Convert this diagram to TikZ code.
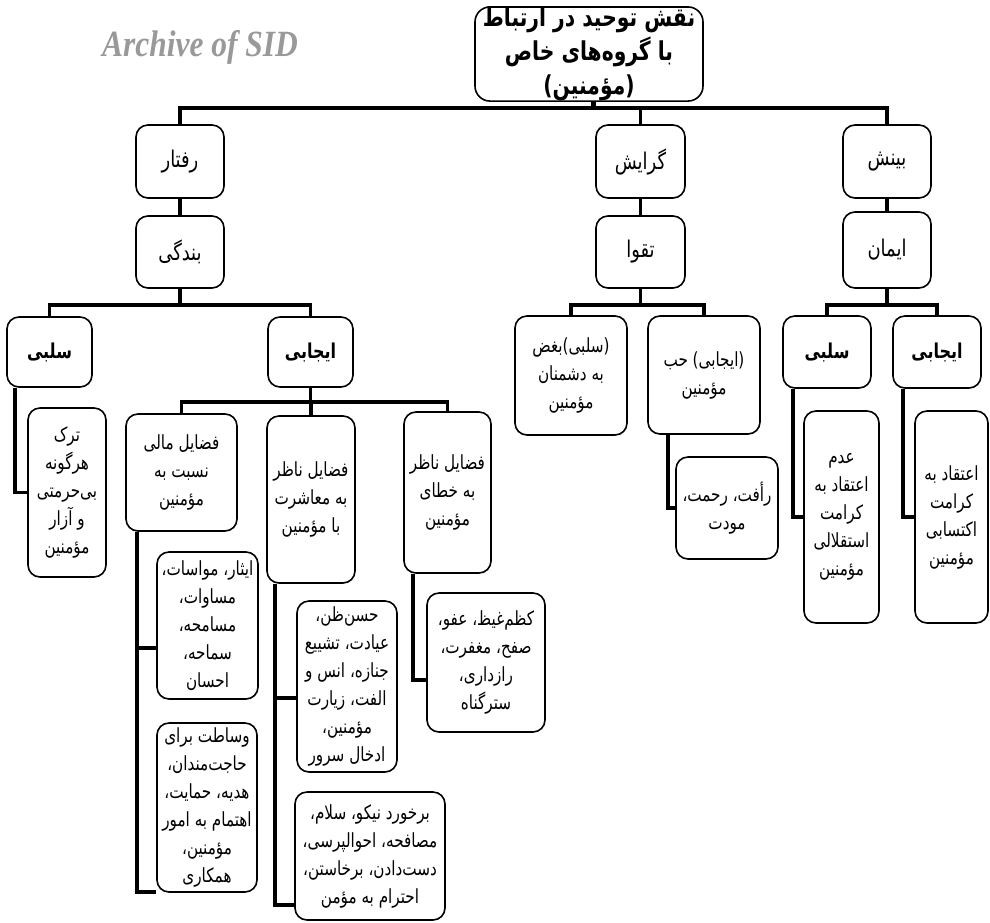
\documentclass[tikz,border=0pt]{standalone}
\usepackage{fontspec}
\usepackage{tikz}
\usetikzlibrary{backgrounds}
\TeXXeTstate=1
\newfontfamily\arabicfont[Script=Arabic, FakeStretch=0.78]{DejaVu Sans}
\newfontfamily\sidfont{Liberation Serif}
\newcommand{\fatxt}[1]{\beginR #1\endR}

\begin{document}
\begin{tikzpicture}[x=1pt,y=-1pt,
    box/.style={draw, fill=white, rounded corners=12pt, line width=1.6pt, align=center, inner sep=0pt,
        font=\arabicfont\fontsize{19.5}{28}\selectfont},
    headbox/.style={box, font=\arabicfont\fontsize{23}{26}\selectfont},
    signbox/.style={box, font=\arabicfont\bfseries\fontsize{20.5}{26}\selectfont},
    titlebox/.style={box, rounded corners=15pt, font=\arabicfont\bfseries\fontsize{26}{34}\selectfont},
    conn/.style={line width=3.3pt},
    ]
    \useasboundingbox (0,0) rectangle (990,922);

    % watermark
    \node[text=black!40, font=\sidfont\bfseries\itshape\fontsize{37}{40}\selectfont, xscale=0.85] (sid) at (200,47) {Archive of SID};

    % title and first levels
    \node[titlebox, minimum width=228pt, minimum height=94pt] (top) at (589,54)
        {\fatxt{نقش توحید در ارتباط}\\\fatxt{با  گروه‌های خاص}\\\fatxt{(مؤمنین)}};
    \node[headbox, minimum width=88pt, minimum height=73pt] (rft) at (180,161.5) {\fatxt{رفتار}};
    \node[headbox, minimum width=89pt, minimum height=73pt] (grs) at (640.5,161.5) {\fatxt{گرایش}};
    \node[headbox, minimum width=88pt, minimum height=73pt] (bns) at (887,161.5) {\fatxt{بینش}};
    \node[headbox, minimum width=88pt, minimum height=72pt] (bnd) at (180,252) {\fatxt{بندگی}};
    \node[headbox, minimum width=89pt, minimum height=72pt] (tqw) at (640.5,252) {\fatxt{تقوا}};
    \node[headbox, minimum width=88pt, minimum height=76pt] (imn) at (887,250) {\fatxt{ایمان}};

    % third level
    \node[signbox, minimum width=85pt, minimum height=70pt] (slbL) at (49.5,352) {\fatxt{سلبی}};
    \node[signbox, minimum width=85pt, minimum height=70pt] (ijbL) at (310.5,352) {\fatxt{ایجابی}};
    \node[box, minimum width=112pt, minimum height=119pt] (bghz) at (571,375.5)
        {\fatxt{(سلبی)بغض}\\\fatxt{به دشمنان}\\\fatxt{مؤمنین}};
    \node[box, minimum width=112pt, minimum height=118pt] (hob) at (704,375)
        {\fatxt{(ایجابی) حب}\\\fatxt{مؤمنین}};
    \node[signbox, minimum width=88pt, minimum height=72pt] (slbR) at (827,352) {\fatxt{سلبی}};
    \node[signbox, minimum width=88pt, minimum height=72pt] (ijbR) at (937,352) {\fatxt{ایجابی}};

    % fourth level
    \node[box, minimum width=78pt, minimum height=169pt] (trk) at (67,492.5)
        {\fatxt{ترک}\\\fatxt{هرگونه}\\\fatxt{بی‌حرمتی}\\\fatxt{و آزار}\\\fatxt{مؤمنین}};
    \node[box, minimum width=111pt, minimum height=117pt] (mali) at (181.5,472.5)
        {\fatxt{فضایل  مالی}\\\fatxt{نسبت به}\\\fatxt{مؤمنین}};
    \node[box, minimum width=88pt, minimum height=167pt] (msh) at (311,499.5)
        {\fatxt{فضایل ناظر}\\\fatxt{به معاشرت}\\\fatxt{با مؤمنین}};
    \node[box, minimum width=87pt, minimum height=161pt] (khat) at (447.5,492.5)
        {\fatxt{فضایل ناظر}\\\fatxt{به خطای}\\\fatxt{مؤمنین}};
    \node[box, minimum width=102pt, minimum height=102pt] (raft) at (727,508)
        {\fatxt{رأفت، رحمت،}\\\fatxt{مودت}};
    \node[box, minimum width=75pt, minimum height=212pt] (adm) at (841.5,517)
        {\fatxt{عدم}\\\fatxt{اعتقاد به}\\\fatxt{کرامت}\\\fatxt{استقلالی}\\\fatxt{مؤمنین}};
    \node[box, minimum width=73pt, minimum height=212pt] (etq) at (951.5,517)
        {\fatxt{اعتقاد به}\\\fatxt{کرامت}\\\fatxt{اکتسابی}\\\fatxt{مؤمنین}};

    % fifth level
    \node[box, minimum width=101pt, minimum height=147pt] (isr) at (207.5,625.5)
        {\fatxt{ایثار، مواسات،}\\\fatxt{مساوات،}\\\fatxt{مسامحه،}\\\fatxt{سماحه،}\\\fatxt{احسان}};
    \node[box, minimum width=100pt, minimum height=169pt] (vst) at (207,807.5)
        {\fatxt{وساطت برای}\\\fatxt{حاجت‌مندان،}\\\fatxt{هدیه، حمایت،}\\\fatxt{اهتمام به امور}\\\fatxt{مؤمنین،}\\\fatxt{همکاری}};
    \node[box, minimum width=100pt, minimum height=171pt] (hsn) at (347,686.5)
        {\fatxt{حسن‌ظن،}\\\fatxt{عیادت، تشییع}\\\fatxt{جنازه، انس و}\\\fatxt{الفت، زیارت}\\\fatxt{مؤمنین،}\\\fatxt{ادخال سرور}};
    \node[box, minimum width=150pt, minimum height=128pt] (brk) at (370,856)
        {\fatxt{برخورد نیکو، سلام،}\\\fatxt{مصافحه، احوالپرسی،}\\\fatxt{دست‌دادن، برخاستن،}\\\fatxt{احترام به مؤمن}};
    \node[box, minimum width=118pt, minimum height=139pt] (kzm) at (486,662.5)
        {\fatxt{کظم‌غیظ، عفو،}\\\fatxt{صفح، مغفرت،}\\\fatxt{رازداری،}\\\fatxt{سترگناه}};

    % bus points
    \coordinate (b0) at (593,108);
    \coordinate (b1) at (0,305);
    \coordinate (b2) at (0,402);
    \coordinate (jTrk) at (15,492.5);
    \coordinate (jRaft) at (668,508);
    \coordinate (jAdm) at (793,517);
    \coordinate (jEtq) at (903,517);
    \coordinate (jIsr) at (137,648);
    \coordinate (jVst) at (137,892);
    \coordinate (jHsn) at (275,698);
    \coordinate (jBrk) at (275,905);
    \coordinate (jKzm) at (413,680);

    \begin{scope}[on background layer]
        \draw[line width=5pt] (top.south -| b0) -- (b0);
        \draw[conn, line width=3.6pt] (rft.north) |- (b0) -| (bns.north);
        \draw[conn, line width=3.6pt] (grs.north) -- (grs.north |- b0);
        \draw[conn] (rft) -- (bnd);
        \draw[conn] (grs) -- (tqw);
        \draw[conn] (bns) -- (imn);

        \draw[conn] (bnd.south) -- (bnd.south |- b1);
        \draw[conn] (slbL.north) |- (bnd.south |- b1) -| (ijbL.north);
        \draw[conn] (tqw.south) -- (tqw.south |- b1);
        \draw[conn] (bghz.north) |- (tqw.south |- b1) -| (hob.north);
        \draw[conn] (imn.south) -- (imn.south |- b1);
        \draw[conn] (slbR.north) |- (imn.south |- b1) -| (ijbR.north);

        \draw[conn] (ijbL.south) -- (ijbL.south |- b2);
        \draw[conn] (mali.north) |- (ijbL.south |- b2) -| (khat.north);
        \draw[conn] (msh.north) -- (msh.north |- b2);

        % side spines
        \draw[conn] (slbL.south -| jTrk) -- (jTrk) -- (trk.west);
        \draw[conn] (hob.south -| jRaft) -- (jRaft) -- (raft.west);
        \draw[conn] (slbR.south -| jAdm) -- (jAdm) -- (adm.west);
        \draw[conn] (ijbR.south -| jEtq) -- (jEtq) -- (etq.west);
        \draw[conn] (mali.south -| jVst) -- (jVst) -- (jVst -| vst.west);
        \draw[conn] (jIsr) -- (jIsr -| isr.west);
        \draw[conn] (msh.south -| jBrk) -- (jBrk) -- (jBrk -| brk.west);
        \draw[conn] (jHsn) -- (jHsn -| hsn.west);
        \draw[conn] (khat.south -| jKzm) -- (jKzm) -- (jKzm -| kzm.west);
    \end{scope}
\end{tikzpicture}
\end{document}
